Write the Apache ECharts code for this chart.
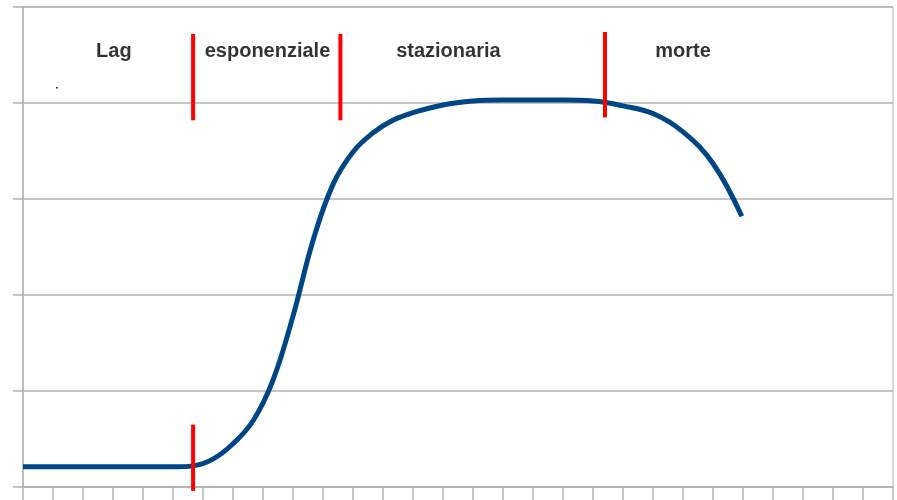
<!DOCTYPE html>
<html>
<head>
<meta charset="utf-8">
<script src="https://cdn.jsdelivr.net/npm/echarts@6/dist/echarts.min.js"></script>
<style>html,body{margin:0;padding:0;background:#fff}#c{width:897px;height:500px}</style>
</head>
<body>
<div id="c"></div>
<script>
// Growth curve points [x, y]
const growthX = [0, 1, 2, 3, 4, 5, 5.67, 6.33, 7, 7.67, 8.33, 9, 9.67, 10.33, 11, 11.67, 12.33, 13, 14, 15, 16, 17, 18, 19, 20, 21, 22, 23, 23.96];
const growthY = [0.21, 0.21, 0.21, 0.21, 0.21, 0.21, 0.22, 0.29, 0.45, 0.69, 1.11, 1.78, 2.57, 3.15, 3.49, 3.69, 3.82, 3.90, 3.98, 4.02, 4.03, 4.03, 4.03, 4.02, 3.97, 3.89, 3.70, 3.37, 2.82];

// Phase labels
const phaseNames = ['Lag', 'esponenziale', 'stazionaria', 'morte'];
const phaseX = [3.03, 8.15, 14.18, 22.0];
const phaseY = [4.54, 4.54, 4.54, 4.54];

// Red phase divider segments: [x, yFrom, yTo]
const dividers = [
  [5.67, 3.82, 4.72],
  [10.58, 3.82, 4.72],
  [19.4, 3.85, 4.74],
  [5.67, -0.04, 0.65]
];

// stray dot
const dotX = [1.13];
const dotY = [4.16];

const xMin = 0, xMax = 29, yMin = 0, yMax = 5;

const chart = echarts.init(document.getElementById('c'), null, {renderer: 'canvas'});
const gray = '#b3b3b3';

const series = [];
series.push({
  type: 'line',
  data: growthX.map((x, i) => [x, growthY[i]]),
  smooth: 0.4,
  showSymbol: false,
  lineStyle: {color: '#004586', width: 5},
  z: 3
});
dividers.forEach(d => {
  series.push({
    type: 'line',
    data: [[d[0], d[1]], [d[0], d[2]]],
    showSymbol: false,
    clip: false,
    lineStyle: {color: '#ff0000', width: 4},
    z: 4
  });
});
series.push({
  type: 'scatter',
  data: phaseNames.map((n, i) => ({name: n, value: [phaseX[i], phaseY[i]]})),
  symbolSize: 0,
  label: {
    show: true,
    position: 'inside',
    formatter: '{b}',
    color: '#000',
    textBorderWidth: 0,
    fontFamily: 'Liberation Sans',
    fontWeight: 'bold',
    fontSize: 20
  },
  z: 5
});
series.push({
  type: 'scatter',
  data: dotX.map((x, i) => [x, dotY[i]]),
  symbolSize: 2,
  itemStyle: {color: '#000'},
  z: 5
});

chart.setOption({
  animation: false,
  grid: {left: 23, right: 4, top: 7, bottom: 13, show: true, borderColor: gray, borderWidth: 1},
  xAxis: {
    type: 'value', min: xMin, max: xMax, interval: 1,
    axisLine: {show: true, lineStyle: {color: gray, width: 1.5}},
    axisTick: {show: true, length: 14, lineStyle: {color: gray, width: 1.5}},
    axisLabel: {show: false},
    splitLine: {show: false}
  },
  yAxis: {
    type: 'value', min: yMin, max: yMax, interval: 1,
    axisLine: {show: true, lineStyle: {color: gray, width: 1.5}},
    axisTick: {show: true, length: 10, lineStyle: {color: gray, width: 1.5}},
    axisLabel: {show: false},
    splitLine: {show: true, lineStyle: {color: gray, width: 1.5}}
  },
  series: series
});
</script>
</body>
</html>
